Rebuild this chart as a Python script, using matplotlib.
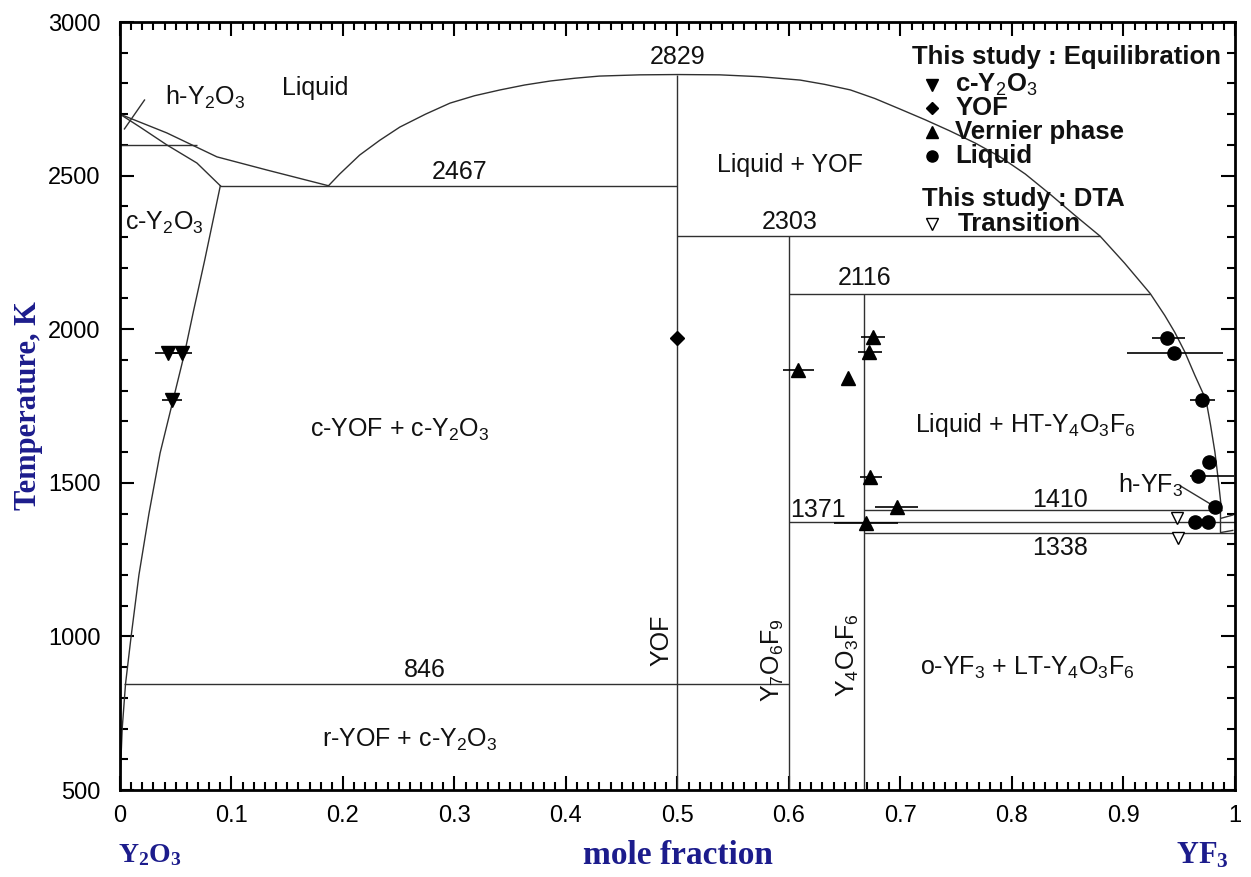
import numpy as np
import matplotlib
matplotlib.use("Agg")
import matplotlib.pyplot as plt
from matplotlib.ticker import MultipleLocator

plt.rcParams["font.family"] = ["Liberation Sans", "DejaVu Sans"]
plt.rcParams["mathtext.fontset"] = "custom"
plt.rcParams["mathtext.rm"] = "Liberation Sans"
plt.rcParams["mathtext.it"] = "Liberation Sans:italic"
plt.rcParams["mathtext.bf"] = "Liberation Serif:bold"

# ---- phase boundaries (mole fraction YF3, temperature K) ----
liq_left_x = [0.0, 0.042, 0.087, 0.132, 0.187]
liq_left_t = [2700, 2639, 2561, 2518, 2467]
sol_h_x = [0.0, 0.018, 0.042, 0.069, 0.09]
sol_h_t = [2700, 2658, 2600, 2541, 2467]
solvus_x = [0.09, 0.076, 0.066, 0.058, 0.047, 0.036, 0.026, 0.017, 0.010, 0.005, 0.002, 0.0]
solvus_t = [2467, 2225, 2060, 1923, 1760, 1597, 1400, 1200, 1000, 846, 700, 520]
dome_x = [0.187, 0.197, 0.215, 0.233, 0.251, 0.274, 0.296, 0.318, 0.341, 0.363,
          0.386, 0.408, 0.430, 0.466, 0.500, 0.538, 0.574, 0.610, 0.632, 0.655,
          0.677, 0.700, 0.722, 0.744, 0.767, 0.789, 0.812, 0.834, 0.856, 0.879,
          0.901, 0.924, 0.937, 0.946, 0.955, 0.964, 0.974, 0.978, 0.982, 0.985, 0.988]
dome_t = [2467, 2505, 2567, 2615, 2658, 2700, 2736, 2760, 2779, 2795,
          2808, 2817, 2824, 2828, 2829, 2828, 2822, 2811, 2797, 2779,
          2751, 2716, 2682, 2646, 2606, 2562, 2505, 2440, 2372, 2303,
          2215, 2116, 2045, 1990, 1926, 1850, 1770, 1690, 1600, 1510, 1410]

# horizontal invariants: (T, x start, x end)
iso_t = [2600, 2467, 2303, 2116, 1410, 1371, 1338, 846]
iso_x0 = [0.0, 0.09, 0.5, 0.6, 0.667, 0.6, 0.667, 0.004]
iso_x1 = [0.069, 0.5, 0.879, 0.924, 0.988, 1.0, 1.0, 0.6]

# compound lines: (x, T top)
comp_x = [0.5, 0.6, 0.667]
comp_top = [2829, 2303, 2116]

# ---- experimental points ----
cy2o3_x = [0.043, 0.056, 0.047]
cy2o3_t = [1922, 1922, 1770]
cy2o3_xlo = [0.031, 0.043, 0.038]
cy2o3_xhi = [0.056, 0.065, 0.056]

yof_x = [0.5]
yof_t = [1972]

vern_x = [0.608, 0.653, 0.675, 0.672, 0.673, 0.697, 0.669]
vern_t = [1867, 1841, 1975, 1926, 1519, 1421, 1369]
vern_xlo = [0.595, 0.653, 0.665, 0.662, 0.664, 0.677, 0.640]
vern_xhi = [0.622, 0.653, 0.686, 0.683, 0.683, 0.716, 0.698]

liq_x = [0.939, 0.945, 0.970, 0.977, 0.967, 0.982, 0.964, 0.976]
liq_t = [1971, 1922, 1770, 1568, 1522, 1421, 1372, 1372]
liq_xlo = [0.926, 0.903, 0.960, 0.977, 0.960, 0.982, 0.960, 0.976]
liq_xhi = [0.955, 0.989, 0.982, 0.977, 0.999, 0.982, 0.976, 0.976]

dta_x = [0.948, 0.949]
dta_t = [1385, 1320]

fig = plt.figure(figsize=(12.51, 8.77), dpi=100)
ax = fig.add_axes([0.0959, 0.0992, 0.8913, 0.8757])

lc = "#303030"
lw = 1.0
ax.plot(liq_left_x, liq_left_t, color=lc, lw=lw)
ax.plot(sol_h_x, sol_h_t, color=lc, lw=lw)
ax.plot(solvus_x, solvus_t, color=lc, lw=lw)
ax.plot(dome_x, dome_t, color=lc, lw=lw)
ax.hlines(iso_t, iso_x0, iso_x1, color=lc, lw=lw)
ax.vlines(comp_x, 500, comp_top, color=lc, lw=lw)

# small details near pure YF3
ax.plot([0.987, 0.987, 0.998], [1410, 1338, 1345], color=lc, lw=lw)
ax.plot([0.988, 0.998], [1385, 1395], color=lc, lw=lw)
ax.plot([0.951, 0.983], [1490, 1420], color=lc, lw=lw)
# pointer for h-Y2O3
ax.plot([0.022, 0.004], [2746, 2652], color=lc, lw=lw)

# error bars
ax.hlines(cy2o3_t, cy2o3_xlo, cy2o3_xhi, color="k", lw=1.2)
ax.hlines(vern_t, vern_xlo, vern_xhi, color="k", lw=1.2)
ax.hlines(liq_t, liq_xlo, liq_xhi, color="k", lw=1.2)

ax.plot(cy2o3_x, cy2o3_t, "v", color="k", ms=10, ls="none")
ax.plot(yof_x, yof_t, "D", color="k", ms=7, ls="none")
ax.plot(vern_x, vern_t, "^", color="k", ms=10, ls="none")
ax.plot(liq_x, liq_t, "o", color="k", ms=9.5, ls="none")
ax.plot(dta_x, dta_t, "v", mfc="white", mec="k", mew=1.0, ms=9, ls="none")

# ---- region labels ----
fs = 18
tc = "#111111"
labels = [
    (0.175, 2785, "Liquid", 0),
    (0.076, 2756, r"h-Y$_2$O$_3$", 0),
    (0.040, 2346, r"c-Y$_2$O$_3$", 0),
    (0.5, 2886, "2829", 0),
    (0.305, 2512, "2467", 0),
    (0.601, 2535, "Liquid + YOF", 0),
    (0.601, 2349, "2303", 0),
    (0.668, 2167, "2116", 0),
    (0.251, 1672, r"c-YOF + c-Y$_2$O$_3$", 0),
    (0.812, 1688, r"Liquid + HT-Y$_4$O$_3$F$_6$", 0),
    (0.924, 1493, r"h-YF$_3$", 0),
    (0.843, 1444, "1410", 0),
    (0.626, 1411, "1371", 0),
    (0.843, 1288, "1338", 0),
    (0.486, 988, "YOF", 90),
    (0.586, 923, r"Y$_7$O$_6$F$_9$", 90),
    (0.653, 939, r"Y$_4$O$_3$F$_6$", 90),
    (0.273, 891, "846", 0),
    (0.814, 897, r"o-YF$_3$ + LT-Y$_4$O$_3$F$_6$", 0),
    (0.26, 663, r"r-YOF + c-Y$_2$O$_3$", 0),
]
for x, t, s, rot in labels:
    ax.text(x, t, s, fontsize=fs, color=tc, ha="center", va="center", rotation=rot)

# ---- legend (drawn by hand) ----
tr = ax.transAxes
lfs = 18.5
ax.text(0.710, 0.954, "This study : Equilibration", transform=tr, fontsize=lfs,
        fontweight="bold", va="center", ha="left", color=tc)
leg_rows = [(0.918, "v", r"c-Y$_2$O$_3$"), (0.888, "D", "YOF"),
            (0.857, "^", "Vernier phase"), (0.826, "o", "Liquid")]
for yy, m, s in leg_rows:
    ms = 6 if m == "D" else 8
    ax.plot([0.728], [yy], m, color="k", ms=ms, transform=tr, clip_on=False)
    ax.text(0.749, yy, s, transform=tr, fontsize=lfs, fontweight="bold",
            va="center", ha="left", color=tc)
ax.text(0.719, 0.770, "This study : DTA", transform=tr, fontsize=lfs,
        fontweight="bold", va="center", ha="left", color=tc)
ax.plot([0.728], [0.737], "v", mfc="white", mec="k", ms=8, mew=1.0, transform=tr)
ax.text(0.751, 0.737, "Transition", transform=tr, fontsize=lfs, fontweight="bold",
        va="center", ha="left", color=tc)

# ---- axes ----
ax.set_xlim(0, 1)
ax.set_ylim(500, 3000)
ax.xaxis.set_major_locator(MultipleLocator(0.1))
ax.xaxis.set_minor_locator(MultipleLocator(0.01))
ax.yaxis.set_major_locator(MultipleLocator(500))
ax.yaxis.set_minor_locator(MultipleLocator(100))
ax.xaxis.set_major_formatter(plt.FuncFormatter(lambda v, p: "%g" % round(v, 2)))
ax.tick_params(which="both", direction="in", top=True, right=True, width=1.5)
ax.tick_params(which="major", length=10, labelsize=17)
ax.tick_params(axis="y", which="major", pad=14)
ax.tick_params(axis="x", which="major", pad=11)
ax.tick_params(which="minor", length=6)
for sp in ax.spines.values():
    sp.set_linewidth(2)

navy = "#1c1c8c"
lab = dict(fontsize=24, fontweight="bold", family="Liberation Serif", color=navy)
ax.text(-0.082, 0.5, "Temperature, K", transform=tr, rotation=90,
        ha="center", va="center", fontsize=22, fontweight="bold",
        family="Liberation Serif", color=navy)
ax.text(0.5, -0.085, "mole fraction", transform=tr, ha="center", va="center", **lab)
ax.text(0.027, -0.085, r"$\mathbf{Y_2O_3}$", transform=tr, ha="center", va="center",
        fontsize=20, color=navy)
ax.text(0.971, -0.085, r"$\mathbf{YF_3}$", transform=tr, ha="center", va="center",
        fontsize=22, color=navy)

fig.savefig("out.png", dpi=100)
